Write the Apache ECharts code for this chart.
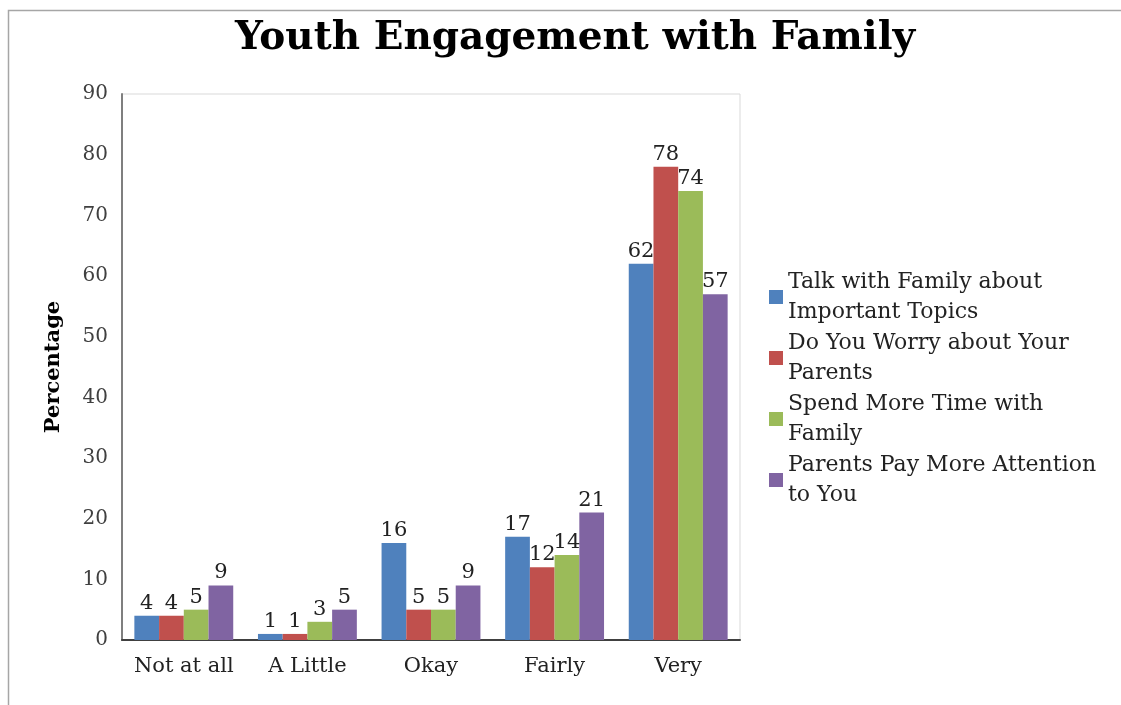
<!DOCTYPE html>
<html>
<head>
<meta charset="utf-8">
<script src="https://cdn.jsdelivr.net/npm/echarts@6/dist/echarts.min.js"></script>
<style>
  html, body { margin: 0; padding: 0; background: #fff; }
  #chart { width: 1121px; height: 705px; }
</style>
</head>
<body>
<div id="chart"></div>
<script>
// Response levels on the category axis
const categories = ['Not at all', 'A Little', 'Okay', 'Fairly', 'Very'];

// Survey items (legend names)
const seriesNames = [
  'Talk with Family about\nImportant Topics',
  'Do You Worry about Your\nParents',
  'Spend More Time with\nFamily',
  'Parents Pay More Attention\nto You'
];

// Percentages per response level
const talkWithFamily   = [4, 1, 16, 17, 62];
const worryAboutParents = [4, 1, 5, 12, 78];
const moreTimeWithFamily = [5, 3, 5, 14, 74];
const parentsAttention = [9, 5, 9, 21, 57];

const yTicks = { min: 0, max: 90, step: 10 };

const colors = ['#4F81BD', '#C0504D', '#9BBB59', '#8064A2'];
const values = [talkWithFamily, worryAboutParents, moreTimeWithFamily, parentsAttention];
const serifFont = '"DejaVu Serif", "Liberation Serif", serif';

const chart = echarts.init(document.getElementById('chart'), null, { renderer: 'canvas' });

chart.setOption({
  animation: false,
  backgroundColor: '#fff',
  color: colors,
  title: {
    text: 'Youth Engagement with Family',
    left: 570,
    textAlign: 'center',
    top: 14,
    textStyle: { fontFamily: serifFont, fontWeight: 'bold', fontSize: 39, color: '#000' }
  },
  graphic: [{
    type: 'rect',
    shape: { x: 8.5, y: 10.5, width: 1130, height: 710 },
    style: { fill: null, stroke: '#a6a6a6', lineWidth: 1.5 },
    silent: true
  }],
  legend: {
    orient: 'vertical',
    left: 764,
    top: 262,
    itemWidth: 14,
    itemHeight: 14,
    itemGap: 1,
    icon: 'rect',
    data: seriesNames,
    textStyle: { fontFamily: serifFont, fontSize: 22, lineHeight: 30, color: '#222' }
  },
  grid: {
    left: 122, right: 381, top: 94, bottom: 65,
    show: true, borderColor: '#d9d9d9', borderWidth: 1
  },
  xAxis: {
    type: 'category',
    data: categories,
    axisLine: { lineStyle: { color: '#404040', width: 2 } },
    axisTick: { show: false },
    axisLabel: { interval: 0, fontFamily: serifFont, fontSize: 21, color: '#222', margin: 16 }
  },
  yAxis: {
    type: 'value',
    min: yTicks.min, max: yTicks.max, interval: yTicks.step,
    name: 'Percentage',
    nameLocation: 'middle',
    nameGap: 58,
    nameTextStyle: { fontFamily: serifFont, fontWeight: 'bold', fontSize: 21, color: '#000' },
    axisLine: { show: true, lineStyle: { color: '#7f7f7f', width: 2 } },
    axisTick: { show: false },
    splitLine: { show: false },
    axisLabel: { fontFamily: serifFont, fontSize: 20, color: '#404040', margin: 14 }
  },
  series: seriesNames.map((name, i) => ({
    type: 'bar',
    name: name,
    data: values[i],
    barGap: '0%',
    barCategoryGap: '20%',
    label: {
      show: true,
      position: 'top',
      distance: 2,
      fontFamily: serifFont,
      fontSize: 21,
      color: '#222'
    }
  }))
});
</script>
</body>
</html>
